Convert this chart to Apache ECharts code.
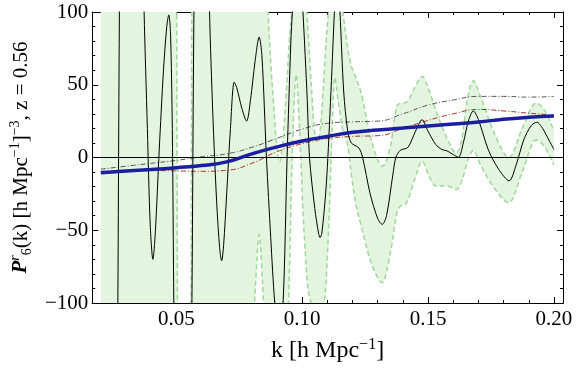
<!DOCTYPE html>
<html>
<head>
<meta charset="utf-8">
<script src="https://cdn.jsdelivr.net/npm/echarts@6/dist/echarts.min.js"></script>
<style>
  html, body { margin: 0; padding: 0; background: #fff; }
  #chart { width: 576px; height: 368px; }
</style>
</head>
<body>
<div id="chart"></div>
<script>
// measured curve: P^r_6(k), values far outside +-100 are clipped by the frame
const kBlack = [0.0200, 0.0235, 0.0258, 0.0266, 0.0276, 0.0290, 0.0320, 0.0350, 0.0366, 0.0372,
  0.0385, 0.0396, 0.0407, 0.0417, 0.0432, 0.0449, 0.0462, 0.0470, 0.0477, 0.0484,
  0.0490, 0.0496, 0.0515, 0.0535, 0.0552, 0.0561, 0.0571, 0.0585, 0.0605, 0.0622,
  0.0632, 0.0645, 0.0660, 0.0672, 0.0680, 0.0688, 0.0700, 0.0715, 0.0730, 0.0740,
  0.0760, 0.0779, 0.0795, 0.0812, 0.0829, 0.0840, 0.0858, 0.0875, 0.0891, 0.0907,
  0.0924, 0.0940, 0.0955, 0.0961, 0.0982, 0.1003, 0.1020, 0.1029, 0.1050, 0.1065,
  0.1071, 0.1078, 0.1093, 0.1102, 0.1118, 0.1128, 0.1139, 0.1150, 0.1165, 0.1181,
  0.1195, 0.1225, 0.1240, 0.1270, 0.1300, 0.1318, 0.1335, 0.1360, 0.1372, 0.1390,
  0.1420, 0.1450, 0.1476, 0.1500, 0.1530, 0.1555, 0.1576, 0.1600, 0.1621, 0.1640,
  0.1660, 0.1680, 0.1700, 0.1740, 0.1780, 0.1822, 0.1850, 0.1880, 0.1910, 0.1932,
  0.1955, 0.1980, 0.2000];
const pBlack = [-300, -420, -300, -150, 150, 330, 420, 320, 160, 100,
  20, -45, -70, -50, 5, 60, 90, 98, 85, 20,
  -100, -200, -360, -380, -250, -120, 120, 280, 340, 200,
  100, 30, -30, -62, -71, -60, -25, 20, 51.8, 48,
  34, 25, 40, 65, 82.7, 70, 0, -55, -100, -122,
  -100, 0, 80, 100, 160, 100, 40, 0, -35, -52,
  -55, -52, -25, 0, 60, 100, 130, 100, 45, 18,
  10, 6.6, 0, -25, -42, -46, -40, -12, 0, 5,
  7, 18, 26, 18, 9, 5.5, 4.5, 2, 0.2, 10,
  25, 32, 26, 5, -8, -16, -5, 12, 22, 24.2,
  20, 12, 5.5];

// shaded error band (upper / lower edge)
const kBand = [0.0200, 0.0364, 0.0490, 0.0498, 0.0508, 0.0534, 0.0555, 0.0565, 0.0573, 0.0680,
  0.0791, 0.0802, 0.0814, 0.0829, 0.0842, 0.0854, 0.0866, 0.0885, 0.0901, 0.0910,
  0.0921, 0.0937, 0.0949, 0.0960, 0.0964, 0.0976, 0.0988, 0.1004, 0.1012, 0.1020,
  0.1036, 0.1047, 0.1059, 0.1071, 0.1083, 0.1095, 0.1107, 0.1119, 0.1129, 0.1142,
  0.1162, 0.1181, 0.1194, 0.1213, 0.1233, 0.1266, 0.1292, 0.1318, 0.1352, 0.1378,
  0.1418, 0.1447, 0.1477, 0.1502, 0.1530, 0.1576, 0.1613, 0.1636, 0.1656, 0.1680,
  0.1708, 0.1767, 0.1822, 0.1874, 0.1929, 0.1964, 0.2000];
const bandUp = [300, 320, 300, 250, -250, -350, -250, 250, 300, 320,
  300, 300, 300, 300, 280, 150, 95, 40, 5, -3,
  8, 45, 80, 105, 120, 160, 200, 150, 115, 95,
  50, 22, 11, 18, 45, 80, 105, 130, 150, 135,
  100, 75, 63.7, 55, 45, 18, 2, -6, 9, 36,
  38.6, 48, 55.7, 47, 33, 13, 3, 15, 40, 52.7,
  42, 15, 0, 20, 37.4, 32, 18.5];
const bandLow = [-300, -320, -300, -400, -500, -550, -500, -400, -300, -300,
  -180, -130, -90, -53, -85, -130, -170, -220, -240, -240,
  -220, -150, -80, 0, 20, 57, 25, -40, -65, -85,
  -100, -105, -108, -110, -105, -85, -40, 20, 55, 40,
  18, 8, -10, -32, -46, -68, -80, -86, -64, -37,
  -30, -15, -2.5, -12, -19.6, -19.6, -22, -15, -3, 5,
  -5, -22, -31, -10, 12, 7, -5];

// model curves
const kModel = [0.02, 0.03, 0.04, 0.05, 0.06, 0.07, 0.08, 0.09, 0.10, 0.11,
  0.12, 0.13, 0.14, 0.15, 0.16, 0.17, 0.18, 0.19, 0.20];
const pBlue = [-10.5, -9.3, -8.2, -7, -5.5, -3, 2.5, 7.3, 11.3, 14.5,
  17.3, 18.9, 20.2, 21.6, 23, 24.4, 26.3, 27.6, 28.5];
const pGray = [-8, -6, -4, -2, 0.5, 2.5, 7, 13.2, 19.5, 23.5,
  24.5, 25, 30, 36, 39.5, 42, 42, 41.5, 42];
const pRed = [-9.5, -9.3, -9, -9.2, -9.5, -8.8, -4, 4, 9.5, 13,
  14.5, 15, 20, 25.5, 30, 33, 32, 30.5, 29];

const xMajor = [0.05, 0.10, 0.15, 0.20];
const xMinor = [0.02, 0.03, 0.04, 0.06, 0.07, 0.08, 0.09, 0.11, 0.12, 0.13, 0.14,
  0.16, 0.17, 0.18, 0.19];

const FONT = '"Liberation Serif", "DejaVu Serif", serif';
const X_MIN = 0.0166;
const X_MAX = 0.2036;

const pairs = (ks, vs) => ks.map((k, i) => [k, vs[i]]);

// monotone-x cubic segments through pixel points: [p0, c1, c2, p1]
const monoSegments = (pts) => {
  const n = pts.length;
  const dx = [];
  const s = [];
  for (let i = 0; i < n - 1; i++) {
    dx[i] = pts[i + 1][0] - pts[i][0];
    s[i] = (pts[i + 1][1] - pts[i][1]) / dx[i];
  }
  const m = [s[0]];
  for (let i = 1; i < n - 1; i++) {
    if (s[i - 1] * s[i] <= 0) {
      m[i] = 0;
    } else {
      const w = (s[i - 1] * dx[i] + s[i] * dx[i - 1]) / (dx[i - 1] + dx[i]);
      const lim = 3 * Math.min(Math.abs(s[i - 1]), Math.abs(s[i]));
      m[i] = Math.sign(w) * Math.min(Math.abs(w), lim);
    }
  }
  m[n - 1] = s[n - 2];
  const segs = [];
  for (let i = 0; i < n - 1; i++) {
    const h = dx[i] / 3;
    segs.push([
      pts[i],
      [pts[i][0] + h, pts[i][1] + m[i] * h],
      [pts[i + 1][0] - h, pts[i + 1][1] - m[i + 1] * h],
      pts[i + 1],
    ]);
  }
  return segs;
};

const pathOf = (segs, reverse, start) => {
  const list = reverse ? segs.slice().reverse().map((g) => [g[3], g[2], g[1], g[0]]) : segs;
  let d = `${start} ${list[0][0][0]} ${list[0][0][1]}`;
  list.forEach((g) => {
    d += ` C ${g[1][0]} ${g[1][1]} ${g[2][0]} ${g[2][1]} ${g[3][0]} ${g[3][1]}`;
  });
  return d;
};

const renderBand = (params, api) => {
  const up = monoSegments(kBand.map((k, i) => api.coord([k, bandUp[i]])));
  const lo = monoSegments(kBand.map((k, i) => api.coord([k, bandLow[i]])));
  const edge = { stroke: '#9fd89a', lineWidth: 1.5, lineDash: [5, 3], fill: null };
  return {
    type: 'group',
    children: [
      {
        type: 'path',
        shape: { pathData: `${pathOf(up, false, 'M')} ${pathOf(lo, true, 'L')} Z` },
        style: { fill: '#e3f4df', stroke: null },
      },
      { type: 'path', shape: { pathData: pathOf(up, false, 'M') }, style: edge },
      { type: 'path', shape: { pathData: pathOf(lo, false, 'M') }, style: edge },
    ],
  };
};

const chart = echarts.init(document.getElementById('chart'));

const frameX = (pos, ticks, len, labels) => ({
  type: 'value',
  position: pos,
  min: X_MIN,
  max: X_MAX,
  axisLine: { show: true, onZero: false, lineStyle: { color: '#000', width: 1 } },
  axisTick: { show: true, inside: true, length: len, customValues: ticks, lineStyle: { color: '#000' } },
  axisLabel: labels ? {
    show: true,
    customValues: xMajor,
    formatter: (v) => v.toFixed(2),
    fontFamily: FONT,
    fontSize: 21,
    color: '#000',
    margin: 6,
  } : { show: false },
  splitLine: { show: false },
});

const frameY = (pos, labels) => ({
  type: 'value',
  position: pos,
  min: -100,
  max: 100,
  interval: 50,
  axisLine: { show: true, onZero: false, lineStyle: { color: '#000', width: 1 } },
  axisTick: { show: true, inside: true, length: 6, lineStyle: { color: '#000' } },
  minorTick: { show: true, splitNumber: 5, length: 3, lineStyle: { color: '#000' } },
  axisLabel: labels ? {
    show: true,
    formatter: (v) => String(v).replace('-', '\u2212'),
    fontFamily: FONT,
    fontSize: 21,
    color: '#000',
    margin: 4,
  } : { show: false },
  splitLine: { show: false },
  minorSplitLine: { show: false },
});

const xName = Object.assign(frameX('bottom', xMajor, 6, true), {
  name: '{t|k [h Mpc}{s|\u22121}{t|]}',
  nameLocation: 'middle',
  nameGap: 34,
  nameTextStyle: {
    fontFamily: FONT,
    color: '#000',
    rich: {
      t: { fontFamily: FONT, fontSize: 24, lineHeight: 28, color: '#000' },
      s: { fontFamily: FONT, fontSize: 16, lineHeight: 18, verticalAlign: 'top', color: '#000' },
    },
  },
});

const yName = Object.assign(frameY('left', true), {
  name: '{ip|P}{sr|r}{sb|6}{t|(k) [h Mpc}{s|\u22121}{t|]}{s|\u22123}{t|, z = 0.56}',
  nameLocation: 'middle',
  nameRotate: 90,
  nameGap: 56,
  nameTextStyle: {
    fontFamily: FONT,
    color: '#000',
    rich: {
      t: { fontFamily: FONT, fontSize: 21, lineHeight: 26, color: '#000' },
      ip: { fontFamily: FONT, fontSize: 21, lineHeight: 26, fontStyle: 'italic', fontWeight: 'bold', color: '#000' },
      sr: { fontFamily: FONT, fontSize: 14, lineHeight: 16, fontStyle: 'italic', verticalAlign: 'top', color: '#000' },
      sb: { fontFamily: FONT, fontSize: 14, lineHeight: 14, verticalAlign: 'bottom', color: '#000' },
      s: { fontFamily: FONT, fontSize: 14, lineHeight: 16, verticalAlign: 'top', color: '#000' },
    },
  },
});

chart.setOption({
  animation: false,
  backgroundColor: '#fff',
  grid: { left: 90, right: 13, top: 12, bottom: 64, containLabel: false },
  xAxis: [
    xName,
    frameX('bottom', xMinor, 3, false),
    frameX('top', xMajor, 6, false),
    frameX('top', xMinor, 3, false),
  ],
  yAxis: [
    yName,
    frameY('right', false),
  ],
  series: [
    {
      name: 'band',
      type: 'custom',
      coordinateSystem: 'cartesian2d',
      clip: true,
      silent: true,
      data: [[kBand[0], 0]],
      renderItem: renderBand,
      z: 1,
    },
    {
      name: 'gray',
      type: 'line',
      data: pairs(kModel, pGray),
      symbol: 'none',
      smooth: true,
      lineStyle: { color: '#555', width: 1, type: [5, 2, 1, 2] },
      z: 3,
    },
    {
      name: 'red',
      type: 'line',
      data: pairs(kModel, pRed),
      symbol: 'none',
      smooth: true,
      lineStyle: { color: '#b0301c', width: 1, type: [5, 2, 1, 2] },
      z: 3,
    },
    {
      name: 'measured',
      type: 'line',
      data: pairs(kBlack, pBlack),
      symbol: 'none',
      smooth: 0.3,
      lineStyle: { color: '#000', width: 1 },
      markLine: {
        silent: true,
        symbol: ['none', 'none'],
        label: { show: false },
        lineStyle: { color: '#000', width: 1, type: 'solid' },
        data: [{ yAxis: 0 }],
      },
      z: 4,
    },
    {
      name: 'blue',
      type: 'line',
      data: pairs(kModel, pBlue),
      symbol: 'none',
      smooth: true,
      lineStyle: { color: '#1b1ea0', width: 3.5 },
      z: 5,
    },
  ],
});
</script>
</body>
</html>
